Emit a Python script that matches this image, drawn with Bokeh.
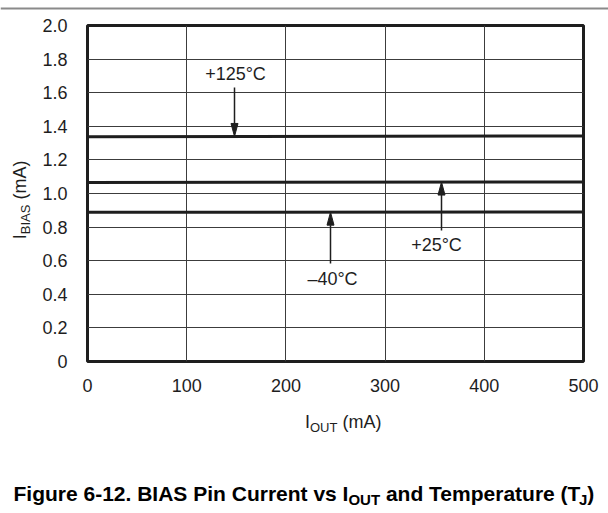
import numpy as np
from bokeh.plotting import figure
from bokeh.layouts import column, row
from bokeh.models import Label, FixedTicker, CustomJSTickFormatter, Range1d
from bokeh.core.properties import value
from bokeh.embed import file_html
from bokeh.resources import INLINE

# ---- data ----
iout_ma = [0, 500]
ibias_125c = [1.338, 1.343]
ibias_25c = [1.066, 1.069]
ibias_m40c = [0.888, 0.890]
x_ticks = [0, 100, 200, 300, 400, 500]
y_ticks = [0, 0.2, 0.4, 0.6, 0.8, 1.0, 1.2, 1.4, 1.6, 1.8, 2.0]
series_labels = ["+125°C", "+25°C", "–40°C"]
x_title = ["I", "OUT", "(mA)"]
y_title = ["I", "BIAS", "(mA)"]
caption = ["Figure 6-12. BIAS Pin Current vs I", "OUT", "and Temperature (T", "J", ")"]

# ---- layout (page pixels, origin top-left) ----
PAGE_W = 608
TOP_H = 10            # strip holding the grey rule
ROW_H = 400           # chart row
BOT_H = 102           # x title + caption
YLAB_W = 36
MAIN_W = 564
FRAME_L, FRAME_T, FRAME_W, FRAME_H = 87, 25, 496, 336
XMAX, YMAX = 500.0, 2.0
FONT = "Liberation Sans"
INK = "#1e1e1e"
SPACE_EM = 0.278


def px2x(px):
    return (px - FRAME_L) / FRAME_W * XMAX


def py2y(py):
    return (FRAME_T + FRAME_H - py) / FRAME_H * YMAX


def blank(w, h, yspan=None):
    f = figure(width=w, height=h, x_range=Range1d(0, w), y_range=Range1d(0, yspan or h),
               output_backend="svg", toolbar_location=None,
               x_axis_location=None, y_axis_location=None, min_border=0)
    f.outline_line_color = None
    f.grid.visible = False
    f.background_fill_color = "white"
    f.border_fill_color = "white"
    return f


# ---- top rule ----
top = blank(PAGE_W, TOP_H)
top.segment(x0=[0], y0=[TOP_H - 6], x1=[PAGE_W], y1=[TOP_H - 6], line_color="#8a8a8a", line_width=2)

# ---- main chart ----
left_border = FRAME_L - YLAB_W
top_border = FRAME_T - TOP_H
p = figure(width=MAIN_W, height=ROW_H, x_range=Range1d(0, XMAX), y_range=Range1d(0, YMAX),
           output_backend="svg", toolbar_location=None,
           min_border_left=left_border, min_border_top=top_border,
           min_border_right=MAIN_W - left_border - FRAME_W,
           min_border_bottom=ROW_H - top_border - FRAME_H)
p.background_fill_color = "white"
p.border_fill_color = "white"
p.outline_line_color = INK
p.outline_line_width = 3

for ax in (p.xaxis[0], p.yaxis[0]):
    ax.axis_line_color = None
    ax.major_tick_line_color = None
    ax.minor_tick_line_color = None
    ax.major_label_text_font = FONT
    ax.major_label_text_font_size = "18px"
    ax.major_label_text_color = INK
    ax.major_label_standoff = 14
p.xaxis.major_label_standoff = 11

p.xaxis.ticker = FixedTicker(ticks=x_ticks)
p.yaxis.ticker = FixedTicker(ticks=y_ticks)
p.yaxis.formatter = CustomJSTickFormatter(code="return tick === 0 ? '0' : tick.toFixed(1);")
p.xgrid.ticker = FixedTicker(ticks=x_ticks)
p.ygrid.ticker = FixedTicker(ticks=y_ticks)
for g in (p.xgrid[0], p.ygrid[0]):
    g.grid_line_color = "#3c3c3c"
    g.grid_line_width = 1

for ys in (ibias_125c, ibias_25c, ibias_m40c):
    p.line(iout_ma, ys, line_width=3, line_color=INK)

# annotations: (series, label, arrow x px, arrow start y px, text centre px)
ann = [
    (ibias_125c, series_labels[0], 234, 87, (235, 73)),
    (ibias_25c, series_labels[1], 441, 230, (436, 244)),
    (ibias_m40c, series_labels[2], 330, 263, (332, 278)),
]
head_len = 13 / FRAME_H * YMAX
head_half = 3.5 / FRAME_W * XMAX
for ys, lab, axp, ayp, (tx, ty) in ann:
    xd = px2x(axp)
    y_tip = float(np.interp(xd, iout_ma, ys))
    y_start = py2y(ayp)
    direction = 1 if y_start > y_tip else -1
    y_base = y_tip + direction * head_len
    p.segment(x0=[xd], y0=[y_start], x1=[xd], y1=[y_base], line_width=1.5, line_color=INK)
    p.patch([xd - head_half, xd, xd + head_half], [y_base, y_tip, y_base],
            fill_color=INK, line_color=INK, line_width=1)
    p.add_layout(Label(x=px2x(tx), y=py2y(ty), text=lab, text_align="center",
                       text_baseline="middle", text_font=FONT, text_font_size="18px",
                       text_color=INK))

# ---- y-axis title (rotated, reads bottom to top) ----
# the row aligns this strip's frame with the chart frame, so map onto the frame span
yfig = blank(YLAB_W, ROW_H, yspan=FRAME_H)
frame_bottom = FRAME_T + FRAME_H
yl_mid, yl_y = 19.5, 238.7
ang = np.pi / 2
y_parts = [
    (y_title[0], yl_mid, yl_y, "18px"),
    (y_title[1], yl_mid + 5.3, yl_y - 5.0, "13px"),
    (y_title[2], yl_mid, yl_y - 5.0 - 29.6 - SPACE_EM * 18, "18px"),
]
for txt, xp, yp, sz in y_parts:
    yfig.text(x=[xp], y=[frame_bottom - yp], text=[txt], angle=ang, text_font=value(FONT),
              text_font_size=value(sz), text_color=INK, text_baseline="middle",
              text_align="left")

# ---- bottom strip: x title + caption (y = text centres) ----
bot = blank(PAGE_W, BOT_H)
bot_bottom = TOP_H + ROW_H + BOT_H
xl_x, xl_mid = 304.5, 421
x_parts = [
    (x_title[0], xl_x, xl_mid, "18px"),
    (x_title[1], xl_x + 5.0, xl_mid + 5.5, "13px"),
    (x_title[2], xl_x + 5.0 + 27.4 + SPACE_EM * 18, xl_mid, "18px"),
]
for txt, xp, yp, sz in x_parts:
    bot.text(x=[xp], y=[bot_bottom - yp], text=[txt], text_font=value(FONT),
             text_font_size=value(sz), text_color=INK, text_baseline="middle",
             text_align="left")

t_size, s_size = 21, 15
t_mid = 493
t_start = 13
w1 = 15.949 * t_size
w_out = 2.111 * s_size
w3 = 9.613 * t_size - 3
w_j = 0.556 * s_size
c_parts = [
    (caption[0], t_start, t_mid, t_size),
    (caption[1], t_start + w1, t_mid + 5.5, s_size),
    (caption[2], t_start + w1 + w_out + SPACE_EM * t_size, t_mid, t_size),
    (caption[3], t_start + w1 + w_out + w3, t_mid + 5.5, s_size),
    (caption[4], t_start + w1 + w_out + w3 + w_j, t_mid, t_size),
]
for txt, xp, yp, sz in c_parts:
    bot.text(x=[xp], y=[bot_bottom - yp], text=[txt], text_font=value(FONT),
             text_font_size=value(f"{sz}px"), text_font_style="bold",
             text_color="black", text_baseline="middle", text_align="left")

layout = column(top, row(yfig, p), bot)
open("out.html", "w").write(file_html(layout, INLINE))
